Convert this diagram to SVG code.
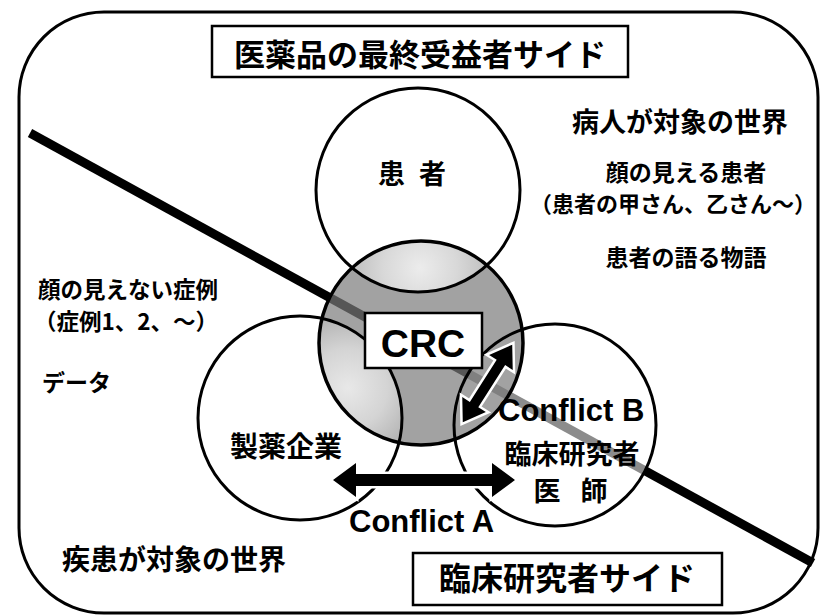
<svg xmlns="http://www.w3.org/2000/svg" width="820" height="616" viewBox="0 0 820 616">
<defs>
<style>
.jp{font-family:"Noto Sans CJK JP","Noto Sans CJK SC",sans-serif;font-weight:700;fill:#000}
.en{font-family:"Liberation Sans",Arial,sans-serif;font-weight:700;fill:#000}
.ring{fill:none;stroke:#000;stroke-width:3}
.veil{fill:#fff;fill-opacity:0.55}
.box{fill:#fff;stroke:#000;stroke-width:2.5}
.arrow{fill:#000;stroke:#fff;stroke-width:5;paint-order:stroke;stroke-linejoin:miter}
</style>
<clipPath id="clipCRC"><circle cx="421" cy="343" r="102"/></clipPath>
<radialGradient id="lightTop" gradientUnits="userSpaceOnUse" cx="420" cy="268" r="62">
<stop offset="0" stop-color="#ececec"/><stop offset="0.6" stop-color="#d8d8d8"/><stop offset="1" stop-color="#c4c4c4"/>
</radialGradient>
<radialGradient id="lightLeft" gradientUnits="userSpaceOnUse" cx="348" cy="388" r="72">
<stop offset="0" stop-color="#e8e8e8"/><stop offset="0.55" stop-color="#d4d4d4"/><stop offset="1" stop-color="#b4b4b4"/>
</radialGradient>
</defs>
<rect width="820" height="616" fill="#fff"/>
<g id="frame"><rect x="19" y="12" width="799" height="601" rx="85" ry="85" fill="none" stroke="#000" stroke-width="3"/></g>
<g id="divider"><line x1="30" y1="133" x2="813" y2="563" stroke="#000" stroke-width="9"/></g>
<g id="fills">
<circle class="veil" cx="418" cy="190" r="102"/>
<circle class="veil" cx="300" cy="418" r="102"/>
<circle class="veil" cx="555" cy="425" r="101"/>
<circle cx="421" cy="343" r="102" fill="#7a7a7a" fill-opacity="0.7"/>
<circle cx="418" cy="190" r="102" fill="url(#lightTop)" clip-path="url(#clipCRC)"/>
<circle cx="300" cy="418" r="102" fill="url(#lightLeft)" clip-path="url(#clipCRC)"/>
</g>
<g id="node-patient"><circle class="ring" cx="418" cy="190" r="102"/><text class="jp" x="414" y="184" font-size="27" letter-spacing="4" text-anchor="middle" xml:space="preserve">患 者</text></g>
<g id="node-pharma"><circle class="ring" cx="300" cy="418" r="102"/><text class="jp" x="286" y="457" font-size="28" text-anchor="middle">製薬企業</text></g>
<g id="node-investigator"><circle class="ring" cx="555" cy="425" r="101"/></g>
<g id="node-crc-ring"><circle cx="421" cy="343" r="102" fill="none" stroke="#000" stroke-width="3.5"/></g>
<g id="connectors">
<path class="arrow" d="M333,480 L356,463 L356,474 L492,474 L492,463 L515,480 L492,497 L492,486 L356,486 L356,497 Z"/>
<path class="arrow" transform="translate(487.5,383.5) rotate(122.5)" d="M-46,0 L-25,-14 L-25,-5 L25,-5 L25,-14 L46,0 L25,14 L25,5 L-25,5 L-25,14 Z"/>
</g>
<g id="node-crc"><rect class="box" x="365" y="313" width="117" height="55" stroke-width="3"/><text class="en" x="423" y="357" font-size="39" text-anchor="middle">CRC</text></g>
<g id="labels">
<text class="en" x="498" y="421" font-size="31">Conflict B</text>
<text class="en" x="349" y="532" font-size="31">Conflict A</text>
<text class="jp" x="572" y="464" font-size="27" text-anchor="middle">臨床研究者</text>
<text class="jp" x="574" y="501" font-size="27" letter-spacing="7" text-anchor="middle" xml:space="preserve">医 師</text>
<text class="jp" x="680" y="132" font-size="27" text-anchor="middle">病人が対象の世界</text>
<text class="jp" x="686" y="181" font-size="23" text-anchor="middle">顔の見える患者</text>
<text class="jp" x="530" y="212" font-size="22">（患者の甲さん、乙さん～）</text>
<text class="jp" x="686" y="266" font-size="23" text-anchor="middle">患者の語る物語</text>
<text class="jp" x="38" y="298" font-size="22.5">顔の見えない症例</text>
<text class="jp" x="34" y="330" font-size="22.5">（症例1、2、～）</text>
<text class="jp" x="42" y="391" font-size="23">データ</text>
<text class="jp" x="62" y="570" font-size="28">疾患が対象の世界</text>
</g>
<g id="title-top"><rect class="box" x="212" y="26" width="416" height="51"/><text class="jp" x="420" y="66" font-size="31" text-anchor="middle">医薬品の最終受益者サイド</text></g>
<g id="title-bottom"><rect class="box" x="413" y="553" width="309" height="52"/><text class="jp" x="567" y="590" font-size="32" text-anchor="middle">臨床研究者サイド</text></g>
</svg>
